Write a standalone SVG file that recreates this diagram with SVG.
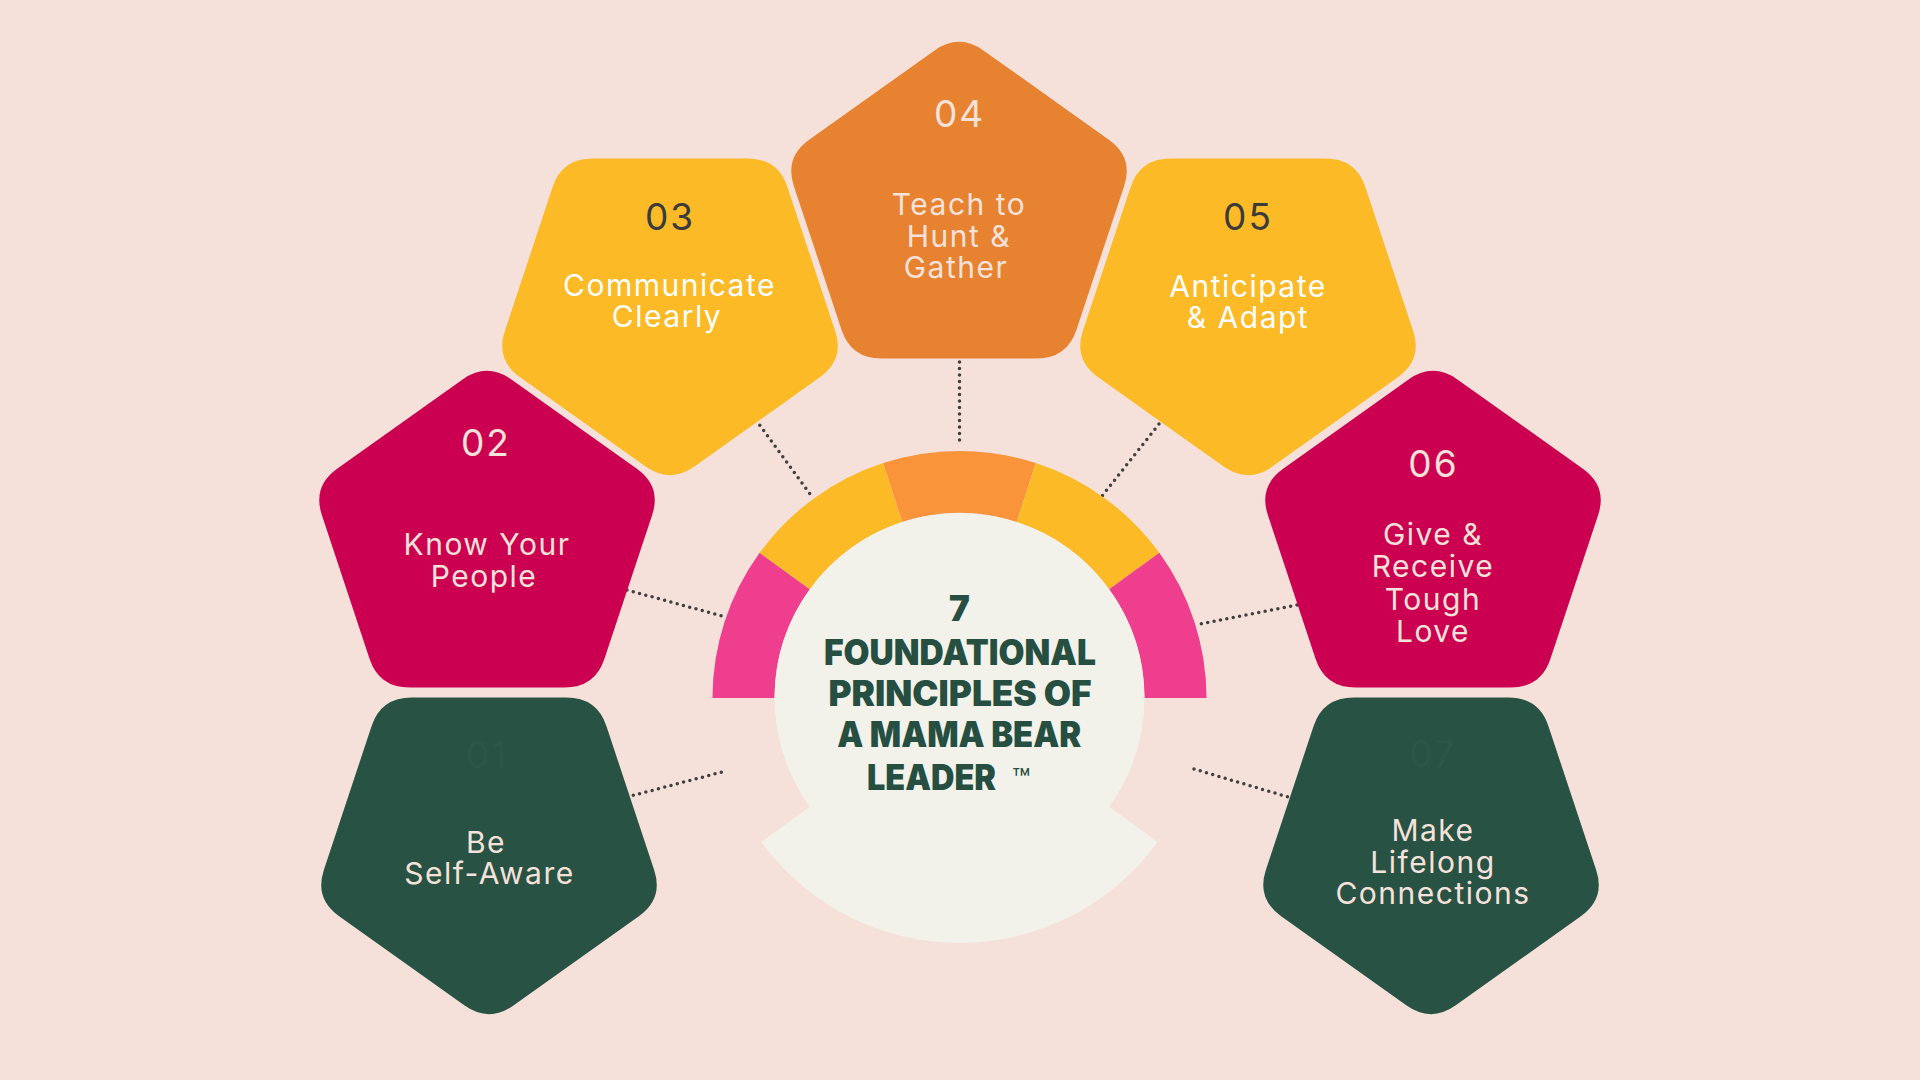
<svg xmlns="http://www.w3.org/2000/svg" xmlns:xlink="http://www.w3.org/1999/xlink" width="1920" height="1080" viewBox="0 0 1920 1080">
<style>
.lbl{font-family:Inter,"Noto Sans",sans-serif;font-size:30px;font-weight:400;letter-spacing:1.5px;text-anchor:middle}
.num{font-family:Inter,"Noto Sans",sans-serif;font-size:37px;font-weight:400;letter-spacing:2px;text-anchor:middle}
.light{fill:#F6E2DA}
.white{fill:#FFFFFF}
.dark{fill:#3B3B3B}
.ghost{fill:#2C5648}
.title{font-family:Inter,"Noto Sans",sans-serif;font-size:35px;font-weight:900;fill:#264F42;text-anchor:middle}
.dots{fill:none;stroke:#3F3F3F;stroke-width:3.5;stroke-linecap:round;stroke-dasharray:0 6.5}
</style>
<defs>
<path id="pent" d="M -24.27,-162.37 Q 0,-180 24.27,-162.37 L 146.92,-73.25 Q 171.19,-55.62 161.92,-27.09 L 115.07,117.09 Q 105.8,145.62 75.8,145.62 L -75.8,145.62 Q -105.8,145.62 -115.07,117.09 L -161.92,-27.09 Q -171.19,-55.62 -146.92,-73.25 Z"/>
</defs>
<rect width="1920" height="1080" fill="#F5E1DA"/>

<g id="connectors" class="dots">
<line x1="959.5" y1="362" x2="959.5" y2="446"/>
<line x1="756" y1="420" x2="810" y2="494"/>
<line x1="1163" y1="419" x2="1102" y2="496"/>
<line x1="627" y1="590" x2="722" y2="616"/>
<line x1="1297" y1="605" x2="1195" y2="625"/>
<line x1="627" y1="797" x2="722" y2="772"/>
<line x1="1194" y1="769" x2="1288" y2="797"/>
</g>

<g id="node-03">
<use xlink:href="#pent" fill="#FBBA26" transform="translate(670,304) scale(1.02,-1)"/>
<text class="num dark" x="670" y="230">03</text>
<text class="lbl white" x="669.5" y="296">Communicate</text>
<text class="lbl white" x="667" y="327">Clearly</text>
</g>

<g id="node-05">
<use xlink:href="#pent" fill="#FBBA26" transform="translate(1248,304) scale(1.02,-1)"/>
<text class="num dark" x="1248" y="230">05</text>
<text class="lbl white" x="1248" y="297">Anticipate</text>
<text class="lbl white" x="1248" y="328">&amp; Adapt</text>
</g>

<g id="node-04">
<use xlink:href="#pent" fill="#E68230" transform="translate(959,213) scale(1.02,1)"/>
<text class="num light" x="959.5" y="127">04</text>
<text class="lbl light" x="959" y="215">Teach to</text>
<text class="lbl light" x="959" y="247">Hunt &amp;</text>
<text class="lbl light" x="956" y="278">Gather</text>
</g>

<g id="node-02">
<use xlink:href="#pent" fill="#CC0050" transform="translate(487,542) scale(1.02,1)"/>
<text class="num light" x="486" y="456">02</text>
<text class="lbl light" x="487" y="555">Know Your</text>
<text class="lbl light" x="484" y="587">People</text>
</g>

<g id="node-06">
<use xlink:href="#pent" fill="#CC0050" transform="translate(1433,542) scale(1.02,1)"/>
<text class="num light" x="1433.5" y="477">06</text>
<text class="lbl light" x="1433" y="545">Give &amp;</text>
<text class="lbl light" x="1433" y="577">Receive</text>
<text class="lbl light" x="1433" y="610">Tough</text>
<text class="lbl light" x="1433" y="642">Love</text>
</g>

<g id="node-01">
<use xlink:href="#pent" fill="#285244" transform="translate(489,843) scale(1.02,-1)"/>
<text class="num ghost" x="487" y="768">01</text>
<text class="lbl light" x="486" y="853">Be</text>
<text class="lbl light" x="489.5" y="884">Self-Aware</text>
</g>

<g id="node-07">
<use xlink:href="#pent" fill="#285244" transform="translate(1431,843) scale(1.02,-1)"/>
<text class="num ghost" x="1433" y="767">07</text>
<text class="lbl light" x="1433" y="841">Make</text>
<text class="lbl light" x="1433" y="873">Lifelong</text>
<text class="lbl light" x="1433" y="904">Connections</text>
</g>

<g id="center">
<path fill="#EF3E8E" d="M 712.5,698 A 247 247 0 0 1 759.68,552.81 L 809.83,589.26 A 185 185 0 0 0 774.5,698 Z"/>
<path fill="#FBBA26" d="M 759.68,552.81 A 247 247 0 0 1 883.18,463.08 L 902.33,522.05 A 185 185 0 0 0 809.83,589.26 Z"/>
<path fill="#F9943B" d="M 883.18,463.08 A 247 247 0 0 1 1035.82,463.08 L 1016.67,522.05 A 185 185 0 0 0 902.33,522.05 Z"/>
<path fill="#FBBA26" d="M 1035.82,463.08 A 247 247 0 0 1 1159.32,552.81 L 1109.17,589.26 A 185 185 0 0 0 1016.67,522.05 Z"/>
<path fill="#EF3E8E" d="M 1159.32,552.81 A 247 247 0 0 1 1206.5,698 L 1144.5,698 A 185 185 0 0 0 1109.17,589.26 Z"/>
<circle cx="959.5" cy="698" r="185" fill="#F2F2EA"/>
<path fill="#F2F2EA" d="M 959.5,698 L 1157.7,842 A 245 245 0 0 1 761.3,842 Z"/>
<text class="title" x="959.5" y="621">7</text>
<text class="title" x="960" y="664.5" textLength="272" lengthAdjust="spacingAndGlyphs">FOUNDATIONAL</text>
<text class="title" x="960" y="706" textLength="263" lengthAdjust="spacingAndGlyphs">PRINCIPLES OF</text>
<text class="title" x="959.2" y="747" textLength="244" lengthAdjust="spacingAndGlyphs">A MAMA BEAR</text>
<text class="title" x="931.5" y="790" textLength="129" lengthAdjust="spacingAndGlyphs">LEADER</text>
<text x="1012" y="790" font-family="Inter,'Noto Sans',sans-serif" font-size="30" font-weight="400" fill="#264F42">™</text>
</g>
</svg>
